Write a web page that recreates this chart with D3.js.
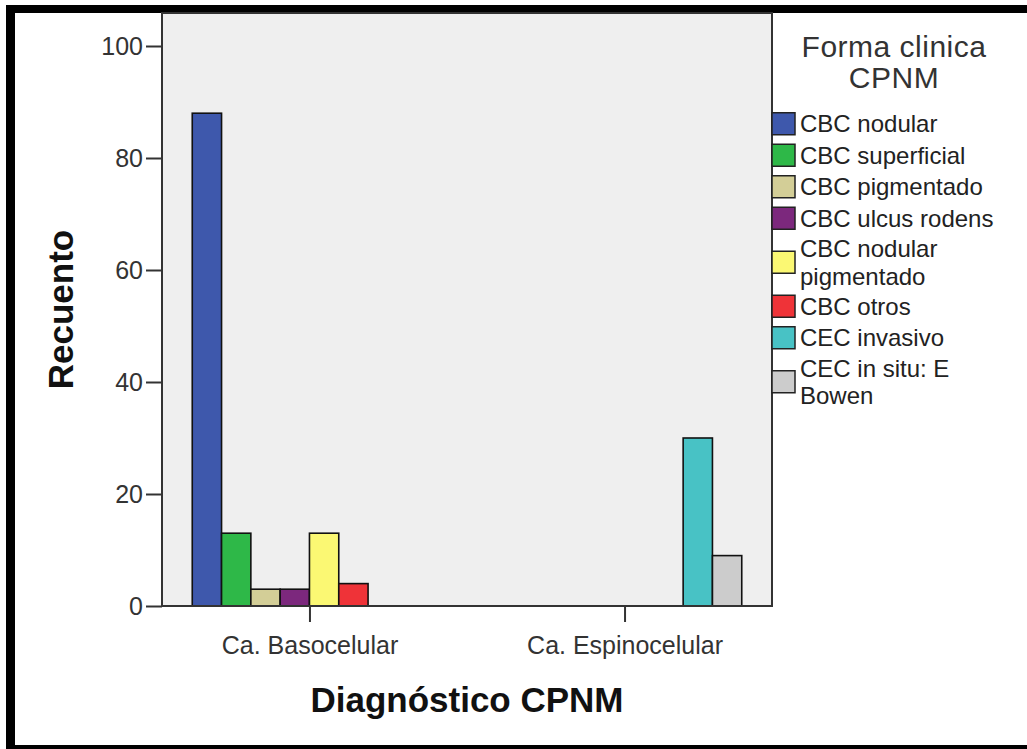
<!DOCTYPE html>
<html>
<head>
<meta charset="utf-8">
<script src="https://cdn.jsdelivr.net/npm/d3@7"></script>
<style>
  body { margin: 0; background: #fff; }
  svg text { font-family: "Liberation Sans", Arial, sans-serif; }
</style>
</head>
<body>
<div id="plot"></div>
<script>
// data
var categories = ["Ca. Basocelular", "Ca. Espinocelular"];
var series = ["CBC nodular", "CBC superficial", "CBC pigmentado", "CBC ulcus rodens",
              "CBC nodular pigmentado", "CBC otros", "CEC invasivo", "CEC in situ: E Bowen"];
var basocelular   = [88, 13, 3, 3, 13, 4, 0, 0];
var espinocelular = [0, 0, 0, 0, 0, 0, 30, 9];
var yTicks = [0, 20, 40, 60, 80, 100];
var colors = ["#3e58ac", "#2eb848", "#d3ce97", "#7c287d", "#fbf873", "#ef3338", "#48c2c5", "#cccccc"];

var W = 1027, H = 749;
var plot = {left: 162, right: 772, top: 13, bottom: 606};

var svg = d3.select("#plot")
  .append("svg")
  .attr("width", W)
  .attr("height", H);

// outer black frame
svg.append("rect").attr("x", 6).attr("y", 5).attr("width", 9).attr("height", H).attr("fill", "#000");
svg.append("rect").attr("x", 6).attr("y", 5).attr("width", W).attr("height", 8).attr("fill", "#000");
svg.append("rect").attr("x", 6).attr("y", 745).attr("width", W).attr("height", 10).attr("fill", "#000");

// plot background
svg.append("rect")
  .attr("x", plot.left).attr("y", plot.top)
  .attr("width", plot.right - plot.left).attr("height", plot.bottom - plot.top)
  .attr("fill", "#efefef");

// scales
var y = d3.scaleLinear().domain([0, 100]).range([plot.bottom, 46]);
var x0 = d3.scalePoint().domain(categories).range([plot.left, plot.right]).padding(0.468);
var groupW = x0.step() * 0.744;
var x1 = d3.scaleBand().domain(series).range([-groupW / 2, groupW / 2]);
var color = d3.scaleOrdinal().domain(series).range(colors);

var rows = [];
categories.forEach(function(c, ci) {
  var vals = ci === 0 ? basocelular : espinocelular;
  series.forEach(function(s, si) {
    if (vals[si] > 0) rows.push({cat: c, key: s, value: vals[si]});
  });
});

// bars
svg.append("g")
  .selectAll("rect")
  .data(rows)
  .enter()
  .append("rect")
    .attr("x", function(d) { return x0(d.cat) + x1(d.key); })
    .attr("y", function(d) { return y(d.value); })
    .attr("width", x1.bandwidth())
    .attr("height", function(d) { return y(0) - y(d.value); })
    .attr("fill", function(d) { return color(d.key); })
    .attr("stroke", "#111")
    .attr("stroke-width", 1.6);

// y axis
var yAxis = svg.append("g")
  .attr("transform", "translate(" + plot.left + ",0)")
  .call(d3.axisLeft(y).tickValues(yTicks).tickSize(16).tickPadding(3));
yAxis.select(".domain").remove();
yAxis.selectAll("line").attr("stroke", "#333").attr("stroke-width", 2);
yAxis.selectAll("text").attr("font-size", 25).attr("fill", "#333")
  .style("font-family", "'Liberation Sans', Arial, sans-serif");

// x axis
var xAxis = svg.append("g")
  .attr("transform", "translate(0," + plot.bottom + ")")
  .call(d3.axisBottom(x0).tickSize(16).tickPadding(14));
xAxis.select(".domain").remove();
xAxis.selectAll("line").attr("stroke", "#333").attr("stroke-width", 2);
xAxis.selectAll("text").attr("font-size", 25).attr("fill", "#333")
  .style("font-family", "'Liberation Sans', Arial, sans-serif");

// plot frame
svg.append("rect")
  .attr("x", plot.left).attr("y", plot.top)
  .attr("width", plot.right - plot.left).attr("height", plot.bottom - plot.top)
  .attr("fill", "none")
  .attr("stroke", "#333")
  .attr("stroke-width", 2);

// axis titles
svg.append("text")
  .attr("x", (plot.left + plot.right) / 2)
  .attr("y", 712)
  .attr("text-anchor", "middle")
  .attr("font-size", 35)
  .attr("font-weight", "bold")
  .attr("fill", "#111")
  .text("Diagnóstico CPNM");

svg.append("text")
  .attr("transform", "translate(73," + (plot.top + plot.bottom) / 2 + ") rotate(-90)")
  .attr("text-anchor", "middle")
  .attr("font-size", 35)
  .attr("font-weight", "bold")
  .attr("fill", "#111")
  .text("Recuento");

// ---------------------------//
//       LEGEND               //
// ---------------------------//
var legend = svg.append("g");

legend.append("text")
  .attr("x", 894).attr("y", 57)
  .attr("text-anchor", "middle")
  .attr("font-size", 30)
  .attr("letter-spacing", 0.5)
  .attr("fill", "#333")
  .text("Forma clinica");
legend.append("text")
  .attr("x", 894).attr("y", 88)
  .attr("text-anchor", "middle")
  .attr("font-size", 30)
  .attr("letter-spacing", 0.5)
  .attr("fill", "#333")
  .text("CPNM");

var itemFont = 24;

// wrap long labels to the legend width
function wrapLabel(label, maxW) {
  var probe = legend.append("text").attr("font-size", itemFont);
  var words = label.split(" "), lines = [], cur = "";
  words.forEach(function(w) {
    var test = cur ? cur + " " + w : w;
    probe.text(test);
    if (probe.node().getComputedTextLength() > maxW && cur) {
      lines.push(cur);
      cur = w;
    } else {
      cur = test;
    }
  });
  lines.push(cur);
  probe.remove();
  return lines;
}

var rowH = 31.5, extraH = 25, lineH = 27.5;
var yCursor = 108;
series.forEach(function(s) {
  var lines = wrapLabel(s, 210);
  var h = rowH + (lines.length - 1) * extraH;
  var cy = yCursor + h / 2;
  legend.append("rect")
    .attr("x", plot.right).attr("y", cy - 11)
    .attr("width", 23).attr("height", 22)
    .attr("fill", color(s))
    .attr("stroke", "#222")
    .attr("stroke-width", 1.5);
  lines.forEach(function(l, i) {
    legend.append("text")
      .attr("font-size", itemFont)
      .attr("fill", "#222")
      .attr("x", 800)
      .attr("y", cy + 8.5 - (lines.length - 1) * lineH / 2 + i * lineH)
      .text(l);
  });
  yCursor += h;
});
</script>
</body>
</html>
